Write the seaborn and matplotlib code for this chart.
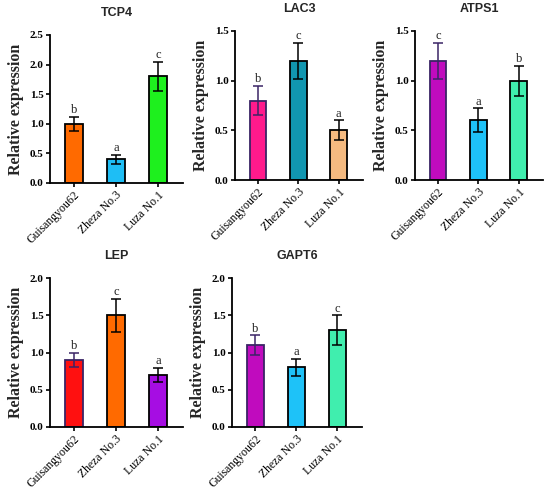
import matplotlib
matplotlib.use("Agg")
import matplotlib.pyplot as plt
import seaborn as sns
import pandas as pd
import numpy as np

sns.set_theme(style="ticks")
plt.rcParams['font.family'] = ['Liberation Serif', 'DejaVu Serif']

cultivars = ["Guisangyou62", "Zheza No.3", "Luza No.1"]

genes = ["TCP4", "LAC3", "ATPS1", "LEP", "GAPT6"]

tcp4_mean = [1.0, 0.4, 1.8]
tcp4_err = [0.12, 0.08, 0.25]
tcp4_sig = ["b", "a", "c"]

lac3_mean = [0.8, 1.2, 0.5]
lac3_err = [0.15, 0.18, 0.10]
lac3_sig = ["b", "c", "a"]

atps1_mean = [1.2, 0.6, 1.0]
atps1_err = [0.18, 0.12, 0.15]
atps1_sig = ["c", "a", "b"]

lep_mean = [0.9, 1.5, 0.7]
lep_err = [0.10, 0.22, 0.09]
lep_sig = ["b", "c", "a"]

gapt6_mean = [1.1, 0.8, 1.3]
gapt6_err = [0.13, 0.11, 0.20]
gapt6_sig = ["b", "a", "c"]

ymax = [2.5, 1.5, 1.5, 2.0, 2.0]

colors = {
    "TCP4": ["#FF6A00", "#1EBEF5", "#1EF01E"],
    "LAC3": ["#FF1A8C", "#1196B0", "#F5BA80"],
    "ATPS1": ["#C00BBE", "#1EC2F8", "#40EEAE"],
    "LEP": ["#FF1010", "#FF6A00", "#A60DE3"],
    "GAPT6": ["#C00BBE", "#1EC2F8", "#40EEAE"],
}
edge = {
    "TCP4": ["black", "black", "black"],
    "LAC3": ["#3A2466", "black", "black"],
    "ATPS1": ["#3A2466", "black", "black"],
    "LEP": ["#3A2466", "black", "black"],
    "GAPT6": ["#3A2466", "black", "black"],
}

means = [tcp4_mean, lac3_mean, atps1_mean, lep_mean, gapt6_mean]
errs = [tcp4_err, lac3_err, atps1_err, lep_err, gapt6_err]
sigs = [tcp4_sig, lac3_sig, atps1_sig, lep_sig, gapt6_sig]

W, H = 550, 493
# axes boxes in pixels: left, right, top, bottom
boxes = [
    (50, 183, 35, 183),
    (235, 363, 31, 180),
    (415, 543, 31, 180),
    (50, 183, 278, 427),
    (232, 362, 278, 427),
]

fig = plt.figure(figsize=(W / 100, H / 100), dpi=100)

for g, m, e, s, ym, (l, r, t, b) in zip(genes, means, errs, sigs, ymax, boxes):
    ax = fig.add_axes([l / W, 1 - b / H, (r - l) / W, (b - t) / H])
    df = pd.DataFrame({"cultivar": cultivars, "value": m})
    sns.barplot(data=df, x="cultivar", y="value", hue="cultivar",
                palette=colors[g], width=0.42, errorbar=None, legend=False,
                saturation=1, linewidth=1.3, edgecolor="black", ax=ax)
    for patch, ec in zip(ax.patches, edge[g]):
        patch.set_edgecolor(ec)
    for i in range(len(cultivars)):
        ax.errorbar(i, m[i], yerr=e[i], fmt="none", ecolor=edge[g][i],
                    elinewidth=1.1, capsize=3.5, capthick=1.1, zorder=3)
        ax.text(i, m[i] + e[i] + ym * 0.005, s[i], ha="center", va="bottom",
                fontsize=9, color="#222222")
    ax.set_xlim(-0.57, 2.6)
    ax.set_ylim(0, ym)
    ticks = np.arange(0, ym + 0.01, 0.5)
    ax.set_yticks(ticks)
    ax.set_yticklabels([f"{v:.1f}" for v in ticks], fontweight="bold")
    ax.set_xlabel("")
    ax.set_ylabel("Relative expression", fontsize=11.5, fontweight="bold",
                  labelpad=4)
    ax.set_title(g, fontsize=9, fontweight="bold", family="Liberation Sans",
                 pad=14)
    sns.despine(ax=ax)
    for sp in ["left", "bottom"]:
        ax.spines[sp].set_linewidth(1.3)
        ax.spines[sp].set_color("black")
    ax.tick_params(axis="both", direction="out", length=3, width=1.2,
                   colors="black", pad=1.5)
    ax.tick_params(axis="y", labelsize=8)
    ax.tick_params(axis="x", labelsize=8.5)
    plt.setp(ax.get_xticklabels(), rotation=45, ha="right",
             rotation_mode="anchor")

fig.savefig("out.png", dpi=100, facecolor="white")
